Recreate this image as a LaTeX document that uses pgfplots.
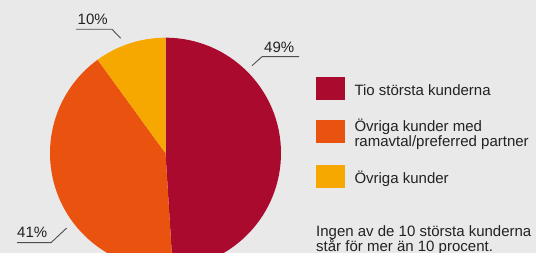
\documentclass[border=0pt]{standalone}
\usepackage{pgfplots}
\pgfplotsset{compat=1.18}
\usepackage{fontspec}
\setmainfont{Liberation Sans}
\definecolor{bg}{HTML}{E9E9E9}
\definecolor{cRed}{HTML}{AB0A2F}
\definecolor{cOrange}{HTML}{E9520F}
\definecolor{cYellow}{HTML}{F7A800}
\definecolor{txt}{HTML}{222222}
% slice values (percent)
\def\vA{49}\def\vB{41}\def\vC{10}
\begin{document}
\begin{tikzpicture}
\begin{axis}[
  at={(0,0)}, anchor=south west,
  scale only axis, width=536pt, height=253pt,
  xmin=0, xmax=536, ymin=0, ymax=253,
  hide axis, clip=true,
  axis background/.style={fill=bg},
]
\addplot[draw=none] coordinates {(0,0)};
\pgfmathsetmacro{\aA}{90-3.6*\vA}
\pgfmathsetmacro{\aB}{\aA-3.6*\vB}
\pgfmathsetmacro{\aC}{\aB-3.6*\vC}
\def\cx{165.5}\def\cy{99.8}\def\r{115.5}
\fill[cRed] (axis cs:\cx,\cy) -- ++(90:\r pt) arc[start angle=90, end angle=\aA, radius=\r pt] -- cycle;
\fill[cOrange] (axis cs:\cx,\cy) -- ++(\aA:\r pt) arc[start angle=\aA, end angle=\aB, radius=\r pt] -- cycle;
\fill[cYellow] (axis cs:\cx,\cy) -- ++(\aB:\r pt) arc[start angle=\aB, end angle=\aC, radius=\r pt] -- cycle;
% leader lines
\draw[txt!80, line width=0.9pt] (axis cs:76,223.7) -- (axis cs:112,223.7) -- (axis cs:120.7,214.7);
\draw[txt!80, line width=0.9pt] (axis cs:299,196.3) -- (axis cs:262,196.3) -- (axis cs:252,187.3);
\draw[txt!80, line width=0.9pt] (axis cs:17,10.3) -- (axis cs:51,10.3) -- (axis cs:66.7,25);
\end{axis}
\tikzset{lbl/.style={anchor=base west, inner sep=0pt, text=txt, font=\fontsize{15}{15}\selectfont}}
\node[lbl] at (77.5pt,228pt) {10\%};
\node[lbl] at (264pt,200.7pt) {\vA\%};
\node[lbl] at (17pt,15.7pt) {\vB\%};
% legend
\fill[cRed] (316pt,153pt) rectangle (345pt,176.3pt);
\fill[cOrange] (316pt,110.3pt) rectangle (345pt,133pt);
\fill[cYellow] (316pt,65.3pt) rectangle (345pt,88pt);
\node[lbl] at (354.3pt,157pt) {Tio största kunderna};
\node[lbl] at (354.3pt,121.3pt) {Övriga kunder med};
\node[lbl] at (354.3pt,106.3pt) {ramavtal/preferred partner};
\node[lbl] at (354.3pt,69.7pt) {Övriga kunder};
\node[lbl] at (316pt,16.3pt) {Ingen av de 10 största kunderna};
\node[lbl] at (316pt,1.3pt) {står för mer än 10 procent.};
\pgfresetboundingbox
\useasboundingbox (0,0) rectangle (536pt,253pt);
\end{tikzpicture}
\end{document}
